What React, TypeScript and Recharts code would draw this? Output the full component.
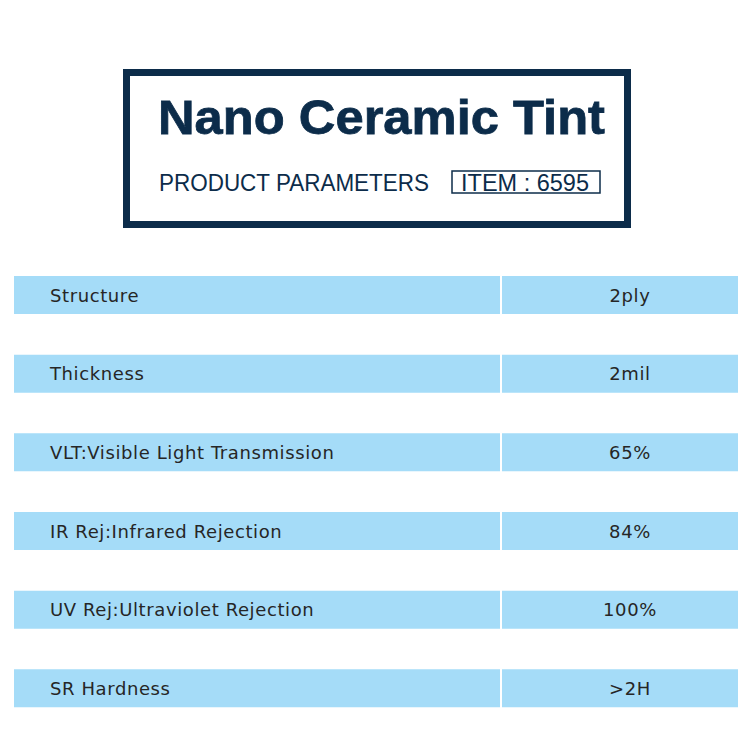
import React from 'react';
import { BarChart, Bar, XAxis, YAxis, LabelList } from 'recharts';

const parameterNames = [
  'Structure',
  'Thickness',
  'VLT:Visible Light Transmission',
  'IR Rej:Infrared Rejection',
  'UV Rej:Ultraviolet Rejection',
  'SR Hardness',
];
const parameterValues = ['2ply', '2mil', '65%', '84%', '100%', '>2H'];

const titleText = 'Nano Ceramic Tint';
const subtitleText = 'PRODUCT PARAMETERS';
const itemText = 'ITEM : 6595';

// column layout (widths of the table cells, in px of the plot)
const NAME_COL = 486;
const GAP_COL = 2;
const VALUE_COL = 236;

const NAVY = '#0c2c4a';
const CELL = '#a5dcf8';
const TEXT = '#262626';

const rows = parameterNames.map((name, i) => ({
  name,
  value: parameterValues[i],
  nameCell: NAME_COL,
  gapCell: GAP_COL,
  valueCell: VALUE_COL,
}));

const renderName = (props: any) => {
  const { x, y, height, value } = props;
  return (
    <text
      x={Number(x) + 36}
      y={Number(y) + Number(height) / 2}
      dominantBaseline="central"
      fill={TEXT}
      fontFamily="DejaVu Sans"
      fontSize={18}
      letterSpacing={0.6}
    >
      {value}
    </text>
  );
};

const renderValue = (props: any) => {
  const { x, y, width, height, value } = props;
  return (
    <text
      x={Number(x) + Number(width) / 2 + 10}
      y={Number(y) + Number(height) / 2}
      dominantBaseline="central"
      textAnchor="middle"
      fill={TEXT}
      fontFamily="DejaVu Sans"
      fontSize={18}
      letterSpacing={0.6}
    >
      {value}
    </text>
  );
};

export default function App() {
  return (
    <div style={{ position: 'absolute', left: 0, top: 0, width: 750, height: 749, background: '#ffffff' }}>
      <svg width={750} height={250} style={{ position: 'absolute', left: 0, top: 0 }}>
        <rect x={126.5} y={72.5} width={501} height={152} fill="#ffffff" stroke={NAVY} strokeWidth={7} />
        <text
          x={158}
          y={134}
          fill={NAVY}
          fontFamily="Liberation Sans, Arial, sans-serif"
          fontWeight="bold"
          fontSize={49}
          textLength={447}
          lengthAdjust="spacingAndGlyphs"
          stroke={NAVY}
          strokeWidth={0.8}
        >
          {titleText}
        </text>
        <text
          x={159}
          y={191}
          fill={NAVY}
          fontFamily="Liberation Sans, Arial, sans-serif"
          fontSize={23}
          textLength={270}
          lengthAdjust="spacingAndGlyphs"
        >
          {subtitleText}
        </text>
        <rect x={452} y={171} width={148} height={22} fill="none" stroke={NAVY} strokeWidth={1.5} />
        <text
          x={461}
          y={191}
          fill={NAVY}
          fontFamily="Liberation Sans, Arial, sans-serif"
          fontSize={23}
          textLength={128}
          lengthAdjust="spacingAndGlyphs"
        >
          {itemText}
        </text>
      </svg>
      <div style={{ position: 'absolute', left: 0, top: 256 }}>
        <BarChart
          width={750}
          height={472}
          data={rows}
          layout="vertical"
          margin={{ top: 0, right: 12, bottom: 0, left: 14 }}
          barCategoryGap={0}
        >
          <XAxis type="number" hide domain={[0, NAME_COL + GAP_COL + VALUE_COL]} />
          <YAxis type="category" dataKey="name" hide />
          <Bar dataKey="nameCell" stackId="row" fill={CELL} barSize={38} isAnimationActive={false}>
            <LabelList dataKey="name" content={renderName} />
          </Bar>
          <Bar dataKey="gapCell" stackId="row" fill="rgba(0,0,0,0)" barSize={38} isAnimationActive={false} />
          <Bar dataKey="valueCell" stackId="row" fill={CELL} barSize={38} isAnimationActive={false}>
            <LabelList dataKey="value" content={renderValue} />
          </Bar>
        </BarChart>
      </div>
    </div>
  );
}
